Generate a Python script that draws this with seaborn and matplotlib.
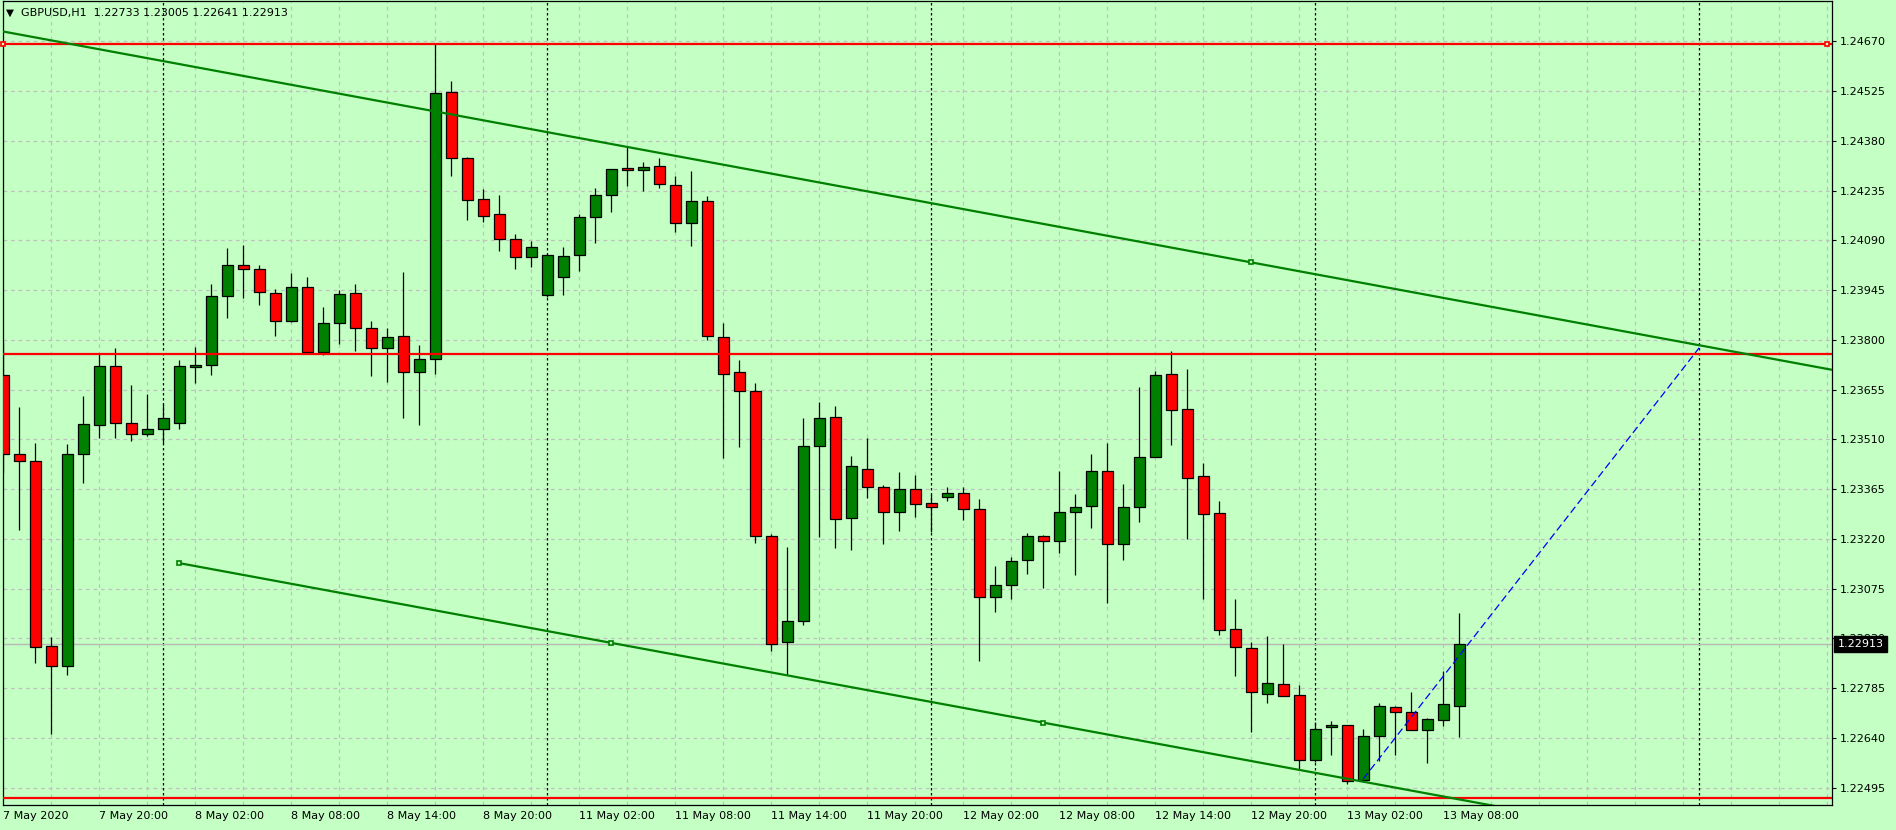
import matplotlib.pyplot as plt
import matplotlib.transforms as mtransforms
import numpy as np
import pandas as pd
import seaborn as sns

# GBPUSD H1 candles, 7 May 2020 14:00 .. 13 May 2020 09:00
opens = [
    1.23697, 1.23466, 1.23446, 1.22909, 1.22848, 1.23466, 1.23551, 1.23723, 1.23557, 1.23525,
    1.23539, 1.23557, 1.23720, 1.23726, 1.23927, 1.24017, 1.24006, 1.23936, 1.23854, 1.23953,
    1.23764, 1.23848, 1.23936, 1.23834, 1.23775, 1.23810, 1.23705, 1.23743, 1.24522, 1.24329,
    1.24210, 1.24166, 1.24093, 1.24041, 1.23930, 1.23982, 1.24047, 1.24157, 1.24222, 1.24300,
    1.24294, 1.24306, 1.24251, 1.24140, 1.24204, 1.23807, 1.23705, 1.23650, 1.23227, 1.22918,
    1.22979, 1.23490, 1.23574, 1.23280, 1.23425, 1.23370, 1.23297, 1.23364, 1.23323, 1.23341,
    1.23353, 1.23306, 1.23049, 1.23084, 1.23157, 1.23227, 1.23213, 1.23297, 1.23315, 1.23417,
    1.23204, 1.23312, 1.23460, 1.23700, 1.23598, 1.23402, 1.23294, 1.22956, 1.22903, 1.22769,
    1.22798, 1.22766, 1.22574, 1.22670, 1.22676, 1.22516, 1.22644, 1.22731, 1.22714, 1.22664,
    1.22691, 1.22733,
]
highs = [
    1.23794, 1.23604, 1.23498, 1.22933, 1.23496, 1.23636, 1.23759, 1.23776, 1.23668, 1.23642,
    1.23612, 1.23741, 1.23779, 1.23963, 1.24068, 1.24077, 1.24017, 1.23947, 1.23995, 1.23983,
    1.23895, 1.23945, 1.23962, 1.23854, 1.23834, 1.23998, 1.23785, 1.24663, 1.24555, 1.24332,
    1.24240, 1.24222, 1.24109, 1.24088, 1.24050, 1.24070, 1.24167, 1.24242, 1.24299, 1.24363,
    1.24318, 1.24329, 1.24277, 1.24291, 1.24219, 1.23848, 1.23740, 1.23673, 1.23233, 1.23195,
    1.23572, 1.23619, 1.23607, 1.23461, 1.23514, 1.23376, 1.23414, 1.23405, 1.23350, 1.23370,
    1.23370, 1.23335, 1.23140, 1.23166, 1.23236, 1.23230, 1.23417, 1.23350, 1.23466, 1.23498,
    1.23379, 1.23662, 1.23708, 1.23767, 1.23714, 1.23440, 1.23329, 1.23046, 1.22918, 1.22936,
    1.22912, 1.22793, 1.22685, 1.22688, 1.22677, 1.22667, 1.22740, 1.22732, 1.22772, 1.22699,
    1.22836, 1.23005,
]
lows = [
    1.23413, 1.23246, 1.22859, 1.22651, 1.22824, 1.23383, 1.23515, 1.23515, 1.23506, 1.23520,
    1.23500, 1.23541, 1.23675, 1.23698, 1.23865, 1.23923, 1.23903, 1.23812, 1.23852, 1.23758,
    1.23755, 1.23789, 1.23768, 1.23694, 1.23677, 1.23573, 1.23552, 1.23701, 1.24279, 1.24150,
    1.24145, 1.24060, 1.24008, 1.24013, 1.23925, 1.23932, 1.24002, 1.24083, 1.24174, 1.24250,
    1.24235, 1.24244, 1.24115, 1.24074, 1.23799, 1.23456, 1.23488, 1.23207, 1.22894, 1.22824,
    1.22969, 1.23225, 1.23194, 1.23188, 1.23340, 1.23206, 1.23244, 1.23284, 1.23239, 1.23329,
    1.23276, 1.22864, 1.23006, 1.23046, 1.23118, 1.23077, 1.23178, 1.23115, 1.23252, 1.23034,
    1.23159, 1.23270, 1.23458, 1.23494, 1.23220, 1.23045, 1.22941, 1.22821, 1.22657, 1.22742,
    1.22761, 1.22545, 1.22569, 1.22590, 1.22504, 1.22510, 1.22571, 1.22591, 1.22663, 1.22565,
    1.22673, 1.22641,
]
closes = [
    1.23466, 1.23446, 1.22906, 1.22848, 1.23466, 1.23554, 1.23723, 1.23557, 1.23525, 1.23539,
    1.23571, 1.23723, 1.23726, 1.23927, 1.24017, 1.24006, 1.23939, 1.23854, 1.23953, 1.23764,
    1.23848, 1.23933, 1.23834, 1.23775, 1.23807, 1.23705, 1.23743, 1.24519, 1.24329, 1.24209,
    1.24162, 1.24093, 1.24041, 1.24070, 1.24047, 1.24044, 1.24157, 1.24222, 1.24297, 1.24294,
    1.24303, 1.24254, 1.24140, 1.24204, 1.23810, 1.23702, 1.23650, 1.23227, 1.22912, 1.22979,
    1.23490, 1.23571, 1.23277, 1.23431, 1.23370, 1.23297, 1.23364, 1.23323, 1.23312, 1.23353,
    1.23306, 1.23049, 1.23084, 1.23154, 1.23227, 1.23213, 1.23297, 1.23312, 1.23417, 1.23204,
    1.23312, 1.23458, 1.23697, 1.23595, 1.23396, 1.23291, 1.22953, 1.22906, 1.22772, 1.22801,
    1.22763, 1.22574, 1.22667, 1.22676, 1.22513, 1.22644, 1.22734, 1.22714, 1.22664, 1.22694,
    1.22737, 1.22913,
]

x_label_bars = [0, 6, 12, 18, 24, 30, 36, 42, 48, 54, 60, 66, 72, 78, 84, 90]
x_labels = [
    "7 May 2020", "7 May 20:00", "8 May 02:00", "8 May 08:00", "8 May 14:00",
    "8 May 20:00", "11 May 02:00", "11 May 08:00", "11 May 14:00", "11 May 20:00",
    "12 May 02:00", "12 May 08:00", "12 May 14:00", "12 May 20:00", "13 May 02:00",
    "13 May 08:00",
]
day_separator_bars = [10, 34, 58, 82, 106]
price_ticks = [
    1.24670, 1.24525, 1.24380, 1.24235, 1.24090, 1.23945, 1.23800, 1.23655,
    1.23510, 1.23365, 1.23220, 1.23075, 1.22930, 1.22785, 1.22640, 1.22495,
]

# drawn objects
horizontal_levels = [1.24663, 1.23759, 1.22464]
top_level_anchor_bars = [0, 114]
upper_channel_bars = [0, 78]
upper_channel_prices = [1.24699, 1.24026]
lower_channel_bars = [11, 38, 65]
lower_channel_prices = [1.23149, 1.22917, 1.22684]
target_bars = [85, 106]
target_prices = [1.22520, 1.23777]
bid_price = 1.22913
title = "GBPUSD,H1  1.22733 1.23005 1.22641 1.22913"

BG = "#c4ffc4"
GRID = "#c0c0c0"
BULL = "#008000"
BEAR = "#ff0000"

sns.set_theme(style="white")
plt.rcParams["font.family"] = ["DejaVu Sans"]

W, H = 1896, 830
fig = plt.figure(figsize=(W / 100, H / 100), dpi=100, facecolor=BG)
ax = fig.add_axes([2.7 / W, 25 / H, 1829.3 / W, 804 / H], facecolor=BG)

df = pd.DataFrame({"open": opens, "high": highs, "low": lows, "close": closes})
df["bar"] = np.arange(len(df))
df["up"] = df["close"] >= df["open"]
df["body_low"] = df[["open", "close"]].min(axis=1)
df["body_h"] = (df["close"] - df["open"]).abs().clip(lower=0.00001)

x_min, x_max = -0.04, 114.3
ax.set_xlim(x_min, x_max)
ax.set_ylim(1.22444, 1.24788)

# grid and separators
for p in price_ticks:
    ax.axhline(p, color=GRID, lw=0.9, ls=(0, (3, 3)), zorder=0.5)
for b in range(3, 115, 3):
    ax.axvline(b, color=GRID, lw=0.9, ls=(0, (3, 3)), zorder=0.5)
for b in day_separator_bars:
    ax.axvline(b, color="black", lw=0.9, ls=(0, (2, 2)), zorder=0.6)
ax.axhline(bid_price, color="#b8b8b8", lw=1.0, zorder=0.7)

# candles
ax.vlines(df["bar"], df["low"], df["high"], color="black", lw=0.9, zorder=2)
ax.bar(df["bar"], df["body_h"], bottom=df["body_low"], width=0.66,
       color=np.where(df["up"], BULL, BEAR), edgecolor="black", linewidth=0.9, zorder=3)

# horizontal levels
for lvl in horizontal_levels:
    ax.axhline(lvl, color=BEAR, lw=1.6, zorder=4)
ax.plot(top_level_anchor_bars, [horizontal_levels[0]] * 2, ls="none", marker="s", ms=3.5,
        mfc=BG, mec=BEAR, mew=1.2, zorder=6, clip_on=False)

# channel lines
up_fit = np.polyfit(upper_channel_bars, upper_channel_prices, 1)
up_x = [x_min, x_max]
sns.lineplot(x=up_x, y=np.polyval(up_fit, up_x), ax=ax, color=BULL, lw=1.6, zorder=5)
lo_fit = np.polyfit(lower_channel_bars, lower_channel_prices, 1)
lo_x = [lower_channel_bars[0], x_max]
sns.lineplot(x=lo_x, y=np.polyval(lo_fit, lo_x), ax=ax, color=BULL, lw=1.6, zorder=5)
ax.plot([upper_channel_bars[1]], [upper_channel_prices[1]], ls="none", marker="s", ms=3.5,
        mfc=BG, mec=BULL, mew=1.2, zorder=6)
ax.plot(lower_channel_bars, np.polyval(lo_fit, lower_channel_bars), ls="none", marker="s",
        ms=3.5, mfc=BG, mec=BULL, mew=1.2, zorder=6)

# target line
ax.plot(target_bars, target_prices, color="#0000ff", lw=0.9, ls=(0, (6, 3)), zorder=5)

# axes
for s in ax.spines.values():
    s.set_color("black")
    s.set_linewidth(0.9)
ax.set_xticks(x_label_bars)
ax.set_xticklabels(x_labels, ha="left", fontsize=8)
ax.tick_params(axis="x", length=3, width=0.8, pad=1.5, colors="black", direction="out")
ax.yaxis.tick_right()
ax.set_yticks(price_ticks)
ax.set_yticklabels([f"{p:.5f}" for p in price_ticks], fontsize=8)
ax.tick_params(axis="y", length=3, width=0.8, pad=2.5, colors="black", direction="out")
ax.set_xlabel("")
ax.set_ylabel("")

trans = mtransforms.blended_transform_factory(ax.transAxes, ax.transData)
ax.text(1.003, bid_price, f"{bid_price:.5f}", transform=trans, ha="left", va="center",
        fontsize=8, color="white", zorder=10, clip_on=False,
        bbox=dict(boxstyle="square,pad=0.3", fc="black", ec="black"))

fig.text(6 / W, 1 - 13 / H, "\u25bc", fontsize=7.5, va="center", ha="left", color="black")
fig.text(21 / W, 1 - 13 / H, title, fontsize=8, va="center", ha="left", color="black")

fig.savefig("out.png", dpi=100, facecolor=BG)
